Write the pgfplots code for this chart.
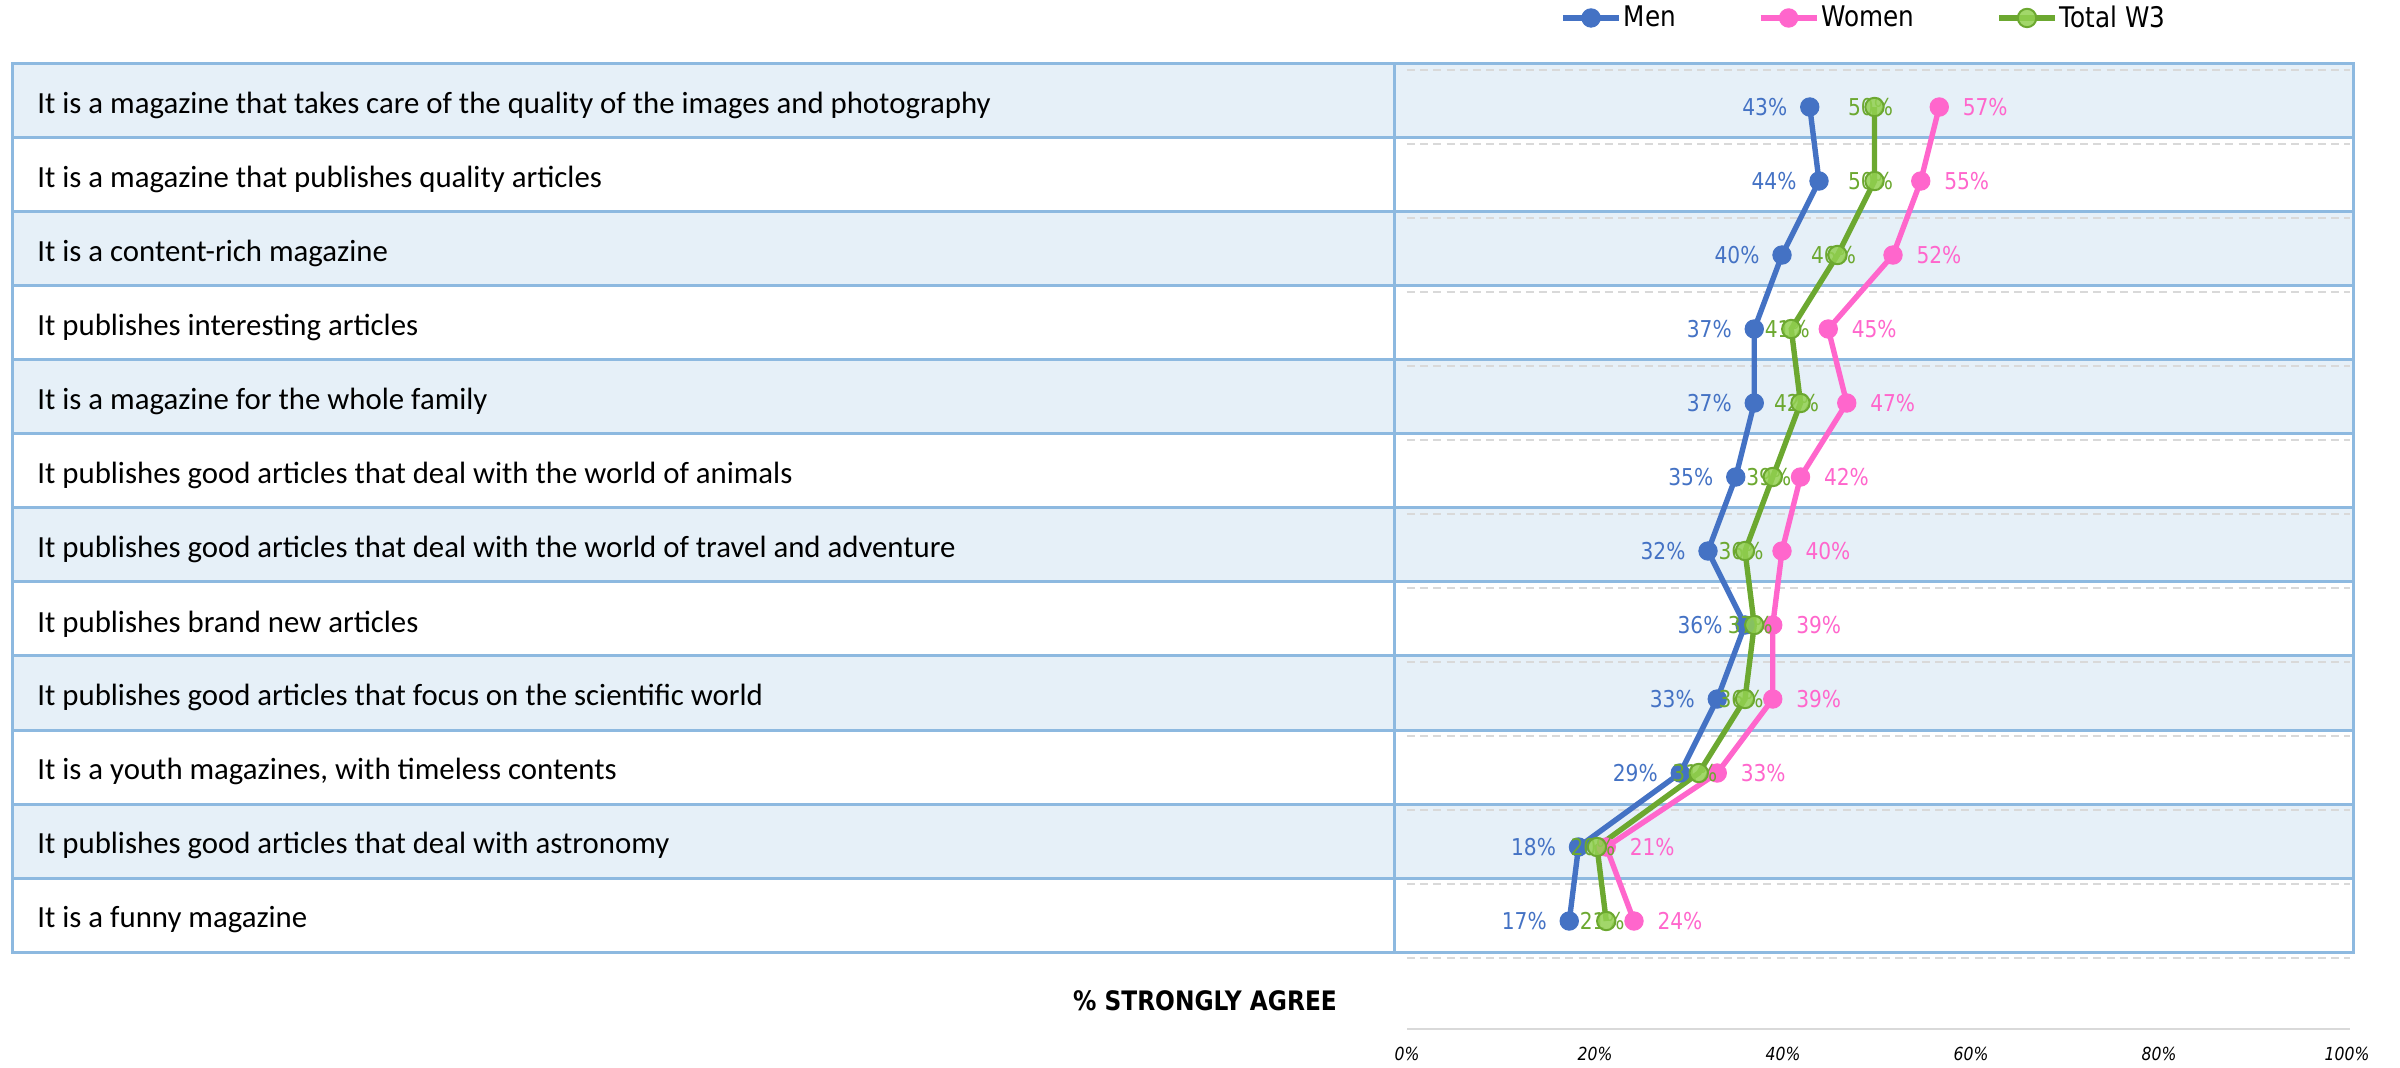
\documentclass[border=0pt]{standalone}
\usepackage{fontspec}
\usepackage{pgfplots}
\usepackage{pgfplotstable}
\pgfplotsset{compat=1.18}
\setmainfont{Carlito}
\newfontfamily\chartfont[FakeStretch=0.87]{DejaVu Sans}

\definecolor{menblue}{HTML}{4472C4}
\definecolor{womenpink}{HTML}{FF66CC}
\definecolor{totalgreen}{HTML}{6CA830}
\definecolor{totalfill}{HTML}{92D050}
\definecolor{rowblue}{HTML}{E6F0F8}
\definecolor{ruleblue}{HTML}{8DB9E0}
\definecolor{gridgray}{HTML}{D9D9D9}

% share of respondents who strongly agree, per statement
\pgfplotstableread{
row men women total
1   43  57    50
2   44  55    50
3   40  52    46
4   37  45    41
5   37  47    42
6   35  42    39
7   32  40    36
8   36  39    37
9   33  39    36
10  29  33    31
11  18  21    20
12  17  24    21
}\agree

\begin{document}
\begin{tikzpicture}
\useasboundingbox (0,0) rectangle (1200pt,533.5pt);

% table: banded rows, rules and the column divider
\foreach \k in {0,2,4,6,8,10}{
  \fill[rowblue] (6pt,{(501.5-37*\k)*1pt}) rectangle (1176.5pt,{(501.5-37*(\k+1))*1pt});
}
\foreach \k in {1,...,11}{
  \draw[ruleblue,line width=1.5pt] (6pt,{(501.5-37*\k)*1pt}) -- (1176.5pt,{(501.5-37*\k)*1pt});
}
\draw[ruleblue,line width=1.5pt] (697pt,57.5pt) -- (697pt,501.5pt);
\draw[ruleblue,line width=1.5pt] (6pt,57.5pt) rectangle (1176.5pt,501.5pt);

\node[font=\chartfont\bfseries\fontsize{13.4}{15}\selectfont] at (602.5pt,33pt) {\% STRONGLY AGREE};

\begin{axis}[
  at={(703.5pt,54.5pt)}, anchor=south west,
  scale only axis, width=471.5pt, height=444pt,
  xmin=-0.54, xmax=101.4, ymin=0.5, ymax=12.5, y dir=reverse,
  clip=false,
  axis line style={draw=none},
  /pgf/number format/assume math mode=true,
  xtick=\empty,
  ytick={1,...,12},
  yticklabels={
    It is a magazine that takes care of the quality of the images and photography,
    It is a magazine that publishes quality articles,
    It is a content-rich magazine,
    It publishes interesting articles,
    It is a magazine for the whole family,
    It publishes good articles that deal with the world of animals,
    It publishes good articles that deal with the world of travel and adventure,
    It publishes brand new articles,
    It publishes good articles that focus on the scientific world,
    {It is a youth magazines, with timeless contents},
    It publishes good articles that deal with astronomy,
    It is a funny magazine},
  yticklabel style={font=\fontsize{15.4}{18}\selectfont, anchor=west, inner sep=0pt, xshift=-685pt, yshift=0.6pt},
  major tick length=0pt,
  extra y ticks={0.5,1.5,...,12.5},
  extra y tick labels={},
  extra y tick style={grid=major, major grid style={gridgray, line width=1.1pt, dash pattern=on 4pt off 2.6pt}},
  legend style={at={(0.1622,1.0586)}, anchor=west, draw=none, fill=none, inner sep=0pt,
    font=\chartfont\fontsize{14.2}{16}\selectfont,
    nodes={inner sep=1pt},
    /tikz/every even column/.append style={column sep=40pt}},
  legend columns=3,
  legend cell align=left,
  legend image code/.code={\draw[mark repeat=2,mark phase=2] plot coordinates {(0pt,0pt)(14pt,0pt)(28pt,0pt)};},
]
\addplot[menblue, line width=2.7pt, mark=*, mark size=4.6pt,
  mark options={fill=menblue, draw=menblue, line width=0.5pt},
  point meta=x, nodes near coords={\pgfmathprintnumber{\pgfplotspointmeta}\%},
  every node near coord/.append style={anchor=east, xshift=-11pt, inner sep=0pt, text=menblue,
    font=\chartfont\fontsize{11.6}{13}\selectfont}]
  table[x=men, y=row]{\agree};
\addlegendentry{Men}
\addplot[womenpink, line width=2.7pt, mark=*, mark size=4.6pt,
  mark options={fill=womenpink, draw=womenpink, line width=0.5pt},
  point meta=x, nodes near coords={\pgfmathprintnumber{\pgfplotspointmeta}\%},
  every node near coord/.append style={anchor=west, xshift=11.5pt, inner sep=0pt, text=womenpink,
    font=\chartfont\fontsize{11.6}{13}\selectfont}]
  table[x=women, y=row]{\agree};
\addlegendentry{Women}
% labels of the total series sit underneath its markers
\addplot[draw=none, mark=none, forget plot,
  point meta=x, nodes near coords={\pgfmathprintnumber{\pgfplotspointmeta}\%},
  every node near coord/.append style={anchor=center, xshift=-2pt, inner sep=0pt, text=totalgreen,
    font=\chartfont\fontsize{11.6}{13}\selectfont}]
  table[x=total, y=row]{\agree};
\addplot[totalgreen, line width=2.7pt, mark=*, mark size=4.6pt,
  mark options={fill=totalfill, fill opacity=0.85, draw=totalgreen, line width=1pt}]
  table[x=total, y=row]{\agree};
\addlegendentry{Total W3}
\end{axis}

% percentage scale under the table
\begin{axis}[
  at={(703.5pt,19pt)}, anchor=south west,
  scale only axis, width=471.5pt, height=1pt,
  xmin=0, xmax=100.32, ymin=0, ymax=1,
  axis x line=bottom, axis y line=none,
  x axis line style={gridgray, line width=1pt, -},
  xtick={0,20,40,60,80,100},
  xticklabels={0\%,20\%,40\%,60\%,80\%,100\%},
  major tick length=0pt,
  xticklabel style={font=\chartfont\itshape\fontsize{9}{11}\selectfont, yshift=-5.5pt},
]
\end{axis}
\end{tikzpicture}
\end{document}
